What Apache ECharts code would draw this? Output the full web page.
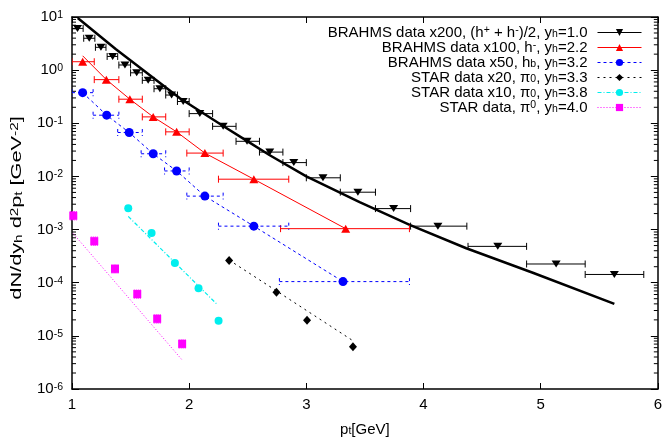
<!DOCTYPE html>
<html><head><meta charset="utf-8">
<script src="https://cdn.jsdelivr.net/npm/echarts@6/dist/echarts.min.js"></script>
<style>html,body{margin:0;padding:0;background:#fff}#c{width:665px;height:442px}</style>
</head><body><div id="c"></div>
<script>
const FONT = '"Liberation Sans", Arial, sans-serif';

// BRAHMS x200, (h+ + h-)/2, yh=1.0
const b200X  = [1.047,1.147,1.247,1.347,1.452,1.552,1.650,1.750,1.850,1.949,2.091,2.290,2.494,2.688,2.893,3.142,3.440,3.745,4.123,4.634,5.132,5.629];
const b200Y  = [6.10,3.98,2.69,1.81,1.25,0.891,0.643,0.447,0.340,0.257,0.152,0.0877,0.0458,0.0287,0.0182,0.00942,0.00505,0.00248,0.00116,4.83e-4,2.25e-4,1.43e-4];
const b200Lo = [1.0,1.10,1.20,1.30,1.40,1.50,1.60,1.70,1.80,1.90,2.0,2.2,2.4,2.6,2.8,3.0,3.29,3.59,3.89,4.38,4.88,5.38];
const b200Hi = [1.095,1.195,1.29,1.39,1.50,1.60,1.70,1.80,1.90,2.0,2.2,2.4,2.6,2.8,3.0,3.29,3.59,3.89,4.37,4.88,5.38,5.88];
// thick black curve
const curveX = [1.049,1.375,1.921,2.29,2.489,2.688,3.0,3.455,3.882,4.365,4.933,5.629];
const curveY = [9.6,2.47,0.296,0.0891,0.0472,0.025,0.0100,0.0033,1.23e-3,4.45e-4,1.54e-4,4.0e-5];

// BRAHMS x100, h-, yh=2.2
const redX  = [1.091,1.293,1.494,1.693,1.893,2.134,2.552,3.336];
const redY  = [1.44,0.663,0.284,0.132,0.069,0.0275,0.00887,1.04e-3];
const redLo = [1.0,1.19,1.40,1.60,1.80,1.98,2.25,2.78];
const redHi = [1.19,1.40,1.60,1.80,2.0,2.29,2.85,3.88];
const redLineX = [1.091,1.293,1.494,1.693,1.893,2.134,2.552,3.336];
const redLineY = [1.86,0.663,0.284,0.132,0.069,0.0275,0.00887,1.04e-3];

// BRAHMS x50, yh=3.2
const blueX  = [1.091,1.296,1.488,1.693,1.893,2.134,2.552,3.313];
const blueY  = [0.377,0.142,0.0671,0.0267,0.01268,0.00426,0.00116,1.05e-4];
const blueLo = [1.0,1.18,1.39,1.59,1.79,1.98,2.25,2.77];
const blueHi = [1.18,1.40,1.60,1.80,2.0,2.29,2.85,3.88];

// STAR x20, yh=3.3
const starX = [2.341,2.745,3.006,3.398];
const starY = [2.62e-4,6.59e-5,1.97e-5,6.21e-6];
const starLineX = [2.341,3.385];
const starLineY = [2.67e-4,8.45e-6];

// STAR x10, yh=3.8
const cyanX = [1.480,1.679,1.878,2.080,2.251];
const cyanY = [2.53e-3,8.6e-4,2.35e-4,7.9e-5,1.92e-5];
const cyanLineX = [1.480,2.234];
const cyanLineY = [1.77e-3,4.0e-5];

// STAR, yh=4.0
const magX  = [1.011,1.190,1.367,1.557,1.727,1.940];
const magY  = [1.82e-3,6.05e-4,1.82e-4,6.12e-5,2.09e-5,7.05e-6];
const magLo = [1.52e-3,5.05e-4,1.52e-4,5.1e-5,1.74e-5,5.9e-6];
const magHi = [2.18e-3,7.25e-4,2.18e-4,7.3e-5,2.5e-5,8.45e-6];
const magLineX = [1.011,1.935];
const magLineY = [8.4e-4,3.62e-6];

const xTicks = [1,2,3,4,5,6];
const yDecades = [-6,-5,-4,-3,-2,-1,0,1];
const minorMult = [2,3,4,5,6,7,8,9];

const names = [
  'BRAHMS data x200, (h+ + h-)/2, yh=1.0',
  'BRAHMS data x100, h-, yh=2.2',
  'BRAHMS data x50, hb, yh=3.2',
  'STAR data x20, pi0, yh=3.3',
  'STAR data x10, pi0, yh=3.8',
  'STAR data, pi0, yh=4.0'
];
const richNames = {};
richNames[names[0]] = 'BRAHMS data x200, (h{sup|+} + h{sup|-})/2, y{sub|h}=1.0';
richNames[names[1]] = 'BRAHMS data x100, h{sup|-}, y{sub|h}=2.2';
richNames[names[2]] = 'BRAHMS data x50, h{sub|b}, y{sub|h}=3.2';
richNames[names[3]] = 'STAR data x20, \u03c0{sub|0}, y{sub|h}=3.3';
richNames[names[4]] = 'STAR data x10, \u03c0{sub|0}, y{sub|h}=3.8';
richNames[names[5]] = 'STAR data, \u03c0{sup|0}, y{sub|h}=4.0';
const yTitle = 'dN/dy{sub|h} d{sup|2}p{sub|t} [GeV{sup|-2}]';
const xTitle = 'p{sub|t}[GeV]';

const CYAN = '#00eeee';
const DOWN_TRI = 'path://M0,0L20,0L10,16Z';
const rich = {
  sup: {fontSize: 10.5, lineHeight: 4, verticalAlign: 'top', fontFamily: FONT, fill: '#000', color: '#000'},
  sub: {fontSize: 10.5, lineHeight: 4, verticalAlign: 'bottom', fontFamily: FONT, fill: '#000', color: '#000'}
};

function pairs(xs, ys) { return xs.map((x, i) => [x, ys[i]]); }
function gapped(xs, ys) {
  const out = [];
  xs.forEach((x, i) => { if (i > 0) out.push([x, '-']); out.push([x, ys[i]]); });
  return out;
}
function xErr(lo, hi, ys, color, dash) {
  return {
    type: 'custom', silent: true, z: 3, clip: true,
    data: lo.map((l, i) => [l, hi[i], ys[i]]),
    encode: {x: [0, 1], y: 2},
    renderItem(params, api) {
      const y = api.value(2);
      const p1 = api.coord([api.value(0), y]);
      const p2 = api.coord([api.value(1), y]);
      const st = {stroke: color, lineWidth: 1, lineDash: dash || null};
      return {type: 'group', children: [
        {type: 'line', shape: {x1: p1[0], y1: p1[1], x2: p2[0], y2: p2[1]}, style: st},
        {type: 'line', shape: {x1: p1[0], y1: p1[1] - 3.5, x2: p1[0], y2: p1[1] + 3.5}, style: st},
        {type: 'line', shape: {x1: p2[0], y1: p2[1] - 3.5, x2: p2[0], y2: p2[1] + 3.5}, style: st}
      ]};
    }
  };
}
function yErr(xs, lo, hi, color) {
  return {
    type: 'custom', silent: true, z: 3,
    data: xs.map((x, i) => [x, lo[i], hi[i]]),
    encode: {x: 0, y: [1, 2]},
    renderItem(params, api) {
      const x = api.value(0);
      const p1 = api.coord([x, api.value(1)]);
      const p2 = api.coord([x, api.value(2)]);
      const st = {stroke: color, lineWidth: 1, lineDash: [1, 1]};
      return {type: 'group', children: [
        {type: 'line', shape: {x1: p1[0], y1: p1[1], x2: p2[0], y2: p2[1]}, style: st},
        {type: 'line', shape: {x1: p1[0] - 3.5, y1: p1[1], x2: p1[0] + 3.5, y2: p1[1]}, style: st},
        {type: 'line', shape: {x1: p2[0] - 3.5, y1: p2[1], x2: p2[0] + 3.5, y2: p2[1]}, style: st}
      ]};
    }
  };
}
const minorVals = [];
yDecades.slice(0, -1).forEach(e => minorMult.forEach(m => minorVals.push([xTicks[0], m * Math.pow(10, e)])));

const minorSeries = {
  type: 'custom', name: 'minor', silent: true, z: 1,
  data: minorVals, encode: {x: 0, y: 1},
  renderItem(params, api) {
    const v = api.value(1);
    const l = api.coord([xTicks[0], v]);
    const r = api.coord([xTicks[xTicks.length - 1], v]);
    const st = {stroke: '#000', lineWidth: 1};
    return {type: 'group', children: [
      {type: 'line', shape: {x1: l[0], y1: l[1], x2: l[0] + 4, y2: l[1]}, style: st},
      {type: 'line', shape: {x1: r[0], y1: r[1], x2: r[0] - 4, y2: r[1]}, style: st}
    ]};
  }
};

function lineS(nm, xs, ys, color, width, dash) {
  return {type: 'line', name: nm, data: pairs(xs, ys), showSymbol: false, symbol: 'none', silent: true, z: 2,
    lineStyle: {color: color, width: width, type: dash}, animation: false};
}
function ptsS(name, data, color, symbol, size, dash) {
  return {type: 'line', name: name, data: data, symbol: symbol, symbolSize: size,
    showSymbol: true, showAllSymbol: true, connectNulls: false, z: 5,
    itemStyle: {color: color, borderWidth: 0}, lineStyle: {color: color, width: 1, type: dash}, animation: false};
}

const yFmt = v => '10{sup|' + Math.round(Math.log10(v)) + '}';
const legendStyles = [
  {color: '#000', type: 'solid'}, {color: '#ff0000', type: 'solid'}, {color: '#0000ff', type: [3, 3]},
  {color: '#000', type: [2, 4]}, {color: CYAN, type: [4, 2, 1, 2]}, {color: '#ff00ff', type: [1, 2]}
];

const option = {
  animation: false,
  backgroundColor: '#fff',
  textStyle: {fontFamily: FONT},
  grid: {left: 72, right: 7, top: 17, bottom: 45},
  graphic: [{
    type: 'text', x: 17, y: 208, rotation: Math.PI / 2, scaleX: 1.45, scaleY: 1, silent: true,
    style: {text: yTitle, rich: rich, fontFamily: FONT, fontSize: 15, lineHeight: 15, fill: '#000', align: 'center', verticalAlign: 'middle'}
  }],
  xAxis: [{
    type: 'value', min: xTicks[0], max: xTicks[xTicks.length - 1], interval: 1,
    axisLine: {lineStyle: {color: '#000', width: 1.5}},
    axisTick: {inside: true, length: 6, lineStyle: {color: '#000'}},
    axisLabel: {fontFamily: FONT, fontSize: 15, color: '#000', margin: 8}, splitLine: {show: false},
    name: xTitle, nameLocation: 'middle', nameGap: 33,
    nameTextStyle: {fontFamily: FONT, fontSize: 15, color: '#000', lineHeight: 15, rich: rich}
  }, {
    type: 'value', position: 'top', min: xTicks[0], max: xTicks[xTicks.length - 1], interval: 1,
    axisLine: {lineStyle: {color: '#000', width: 1.5}},
    axisTick: {inside: true, length: 6, lineStyle: {color: '#000'}},
    axisLabel: {show: false}, splitLine: {show: false}
  }],
  yAxis: [{
    type: 'log', logBase: 10, min: 1e-6, max: 10, splitNumber: 7,
    axisLine: {lineStyle: {color: '#000', width: 1.5}},
    axisTick: {inside: true, length: 7, lineStyle: {color: '#000'}},
    axisLabel: {fontFamily: FONT, fontSize: 15, color: '#000', margin: 9, lineHeight: 15, formatter: yFmt, rich: rich},
    splitLine: {show: false}, minorTick: {show: false}
  }, {
    type: 'log', logBase: 10, min: 1e-6, max: 10, splitNumber: 7, position: 'right',
    axisLine: {lineStyle: {color: '#000', width: 1.5}},
    axisTick: {inside: true, length: 7, lineStyle: {color: '#000'}},
    axisLabel: {show: false}, splitLine: {show: false}
  }],
  legend: {
    orient: 'vertical', right: 18, top: 20, align: 'right',
    itemWidth: 44, itemHeight: 9, itemGap: 0,
    data: names.map((n, i) => ({name: n, lineStyle: {width: 1, color: legendStyles[i].color, type: legendStyles[i].type, opacity: 1}})),
    formatter: n => richNames[n],
    textStyle: {fontFamily: FONT, fontSize: 15, color: '#000', lineHeight: 15, padding: [0, 5, 0, 0], rich: rich},
    selectedMode: false
  },
  series: [
    minorSeries,
    xErr(b200Lo, b200Hi, b200Y, '#000', null),
    xErr(redLo, redHi, redY, '#ff0000', null),
    xErr(blueLo, blueHi, blueY, '#0000ff', [3, 3]),
    yErr(magX, magLo, magHi, '#ff00ff'),
    ptsS(names[0], gapped(b200X, b200Y), '#000', DOWN_TRI, [9, 7], 'solid'),
    ptsS(names[1], gapped(redX, redY), '#ff0000', 'triangle', [9, 8], 'solid'),
    ptsS(names[2], pairs(blueX, blueY), '#0000ff', 'circle', 9, [3, 3]),
    ptsS(names[3], gapped(starX, starY), '#000', 'diamond', [8, 9], [2, 4]),
    ptsS(names[4], gapped(cyanX, cyanY), CYAN, 'circle', 8, [4, 2, 1, 2]),
    ptsS(names[5], gapped(magX, magY), '#ff00ff', 'rect', 8, [1, 2]),
    lineS('theory black', curveX, curveY, '#000', 2.5, 'solid'),
    lineS('theory red', redLineX, redLineY, '#ff0000', 1, 'solid'),
    lineS('theory cyan', cyanLineX, cyanLineY, CYAN, 1.2, [4, 2, 1, 2]),
    lineS('theory magenta', magLineX, magLineY, '#ff00ff', 1, [1, 2]),
    lineS('theory star', starLineX, starLineY, '#000', 1, [2, 4])
  ]
};
const chart = echarts.init(document.getElementById('c'), null, {renderer: 'canvas'});
chart.setOption(option);
</script></body></html>
